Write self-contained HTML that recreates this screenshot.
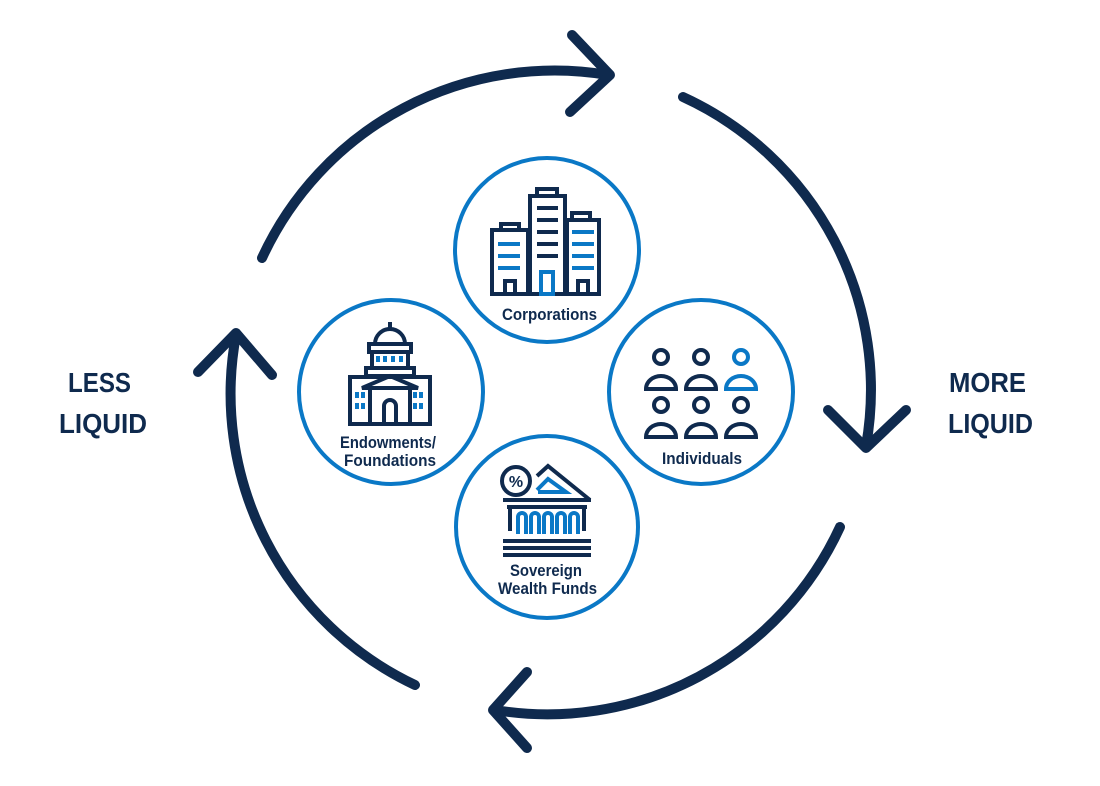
<!DOCTYPE html>
<html><head><meta charset="utf-8"><style>
html,body{margin:0;padding:0;background:#fff;}
svg{display:block}
text{font-family:"Liberation Sans",sans-serif;fill:#0f2a4e;font-weight:bold;}
</style></head><body>
<svg width="1100" height="786" viewBox="0 0 1100 786" xmlns="http://www.w3.org/2000/svg">
<g fill="none" stroke="#0f2a4e" stroke-width="10" stroke-linecap="round" stroke-linejoin="round">
<path d="M262 258 A322 322 0 0 1 608 75"/>
<path d="M572 35 L610 75 L570 112"/>
<path d="M683 97 A322 322 0 0 1 866 446"/>
<path d="M828 410 L866 448 L906 410"/>
<path d="M840 527 A322 322 0 0 1 495 710"/>
<path d="M527 672 L493 710 L527 748"/>
<path d="M415 685 A322 322 0 0 1 236 335"/>
<path d="M198 372 L236 333 L272 375"/>
</g>
<g fill="none" stroke="#0a78c6" stroke-width="4">
<circle cx="547" cy="250" r="92"/>
<circle cx="391" cy="392" r="92"/>
<circle cx="701" cy="392" r="92"/>
<circle cx="547" cy="527" r="91"/>
</g>
<text x="68" y="392" font-size="28" textLength="63" lengthAdjust="spacingAndGlyphs">LESS</text>
<text x="59" y="433" font-size="28" textLength="88" lengthAdjust="spacingAndGlyphs">LIQUID</text>
<text x="949" y="392" font-size="28" textLength="77" lengthAdjust="spacingAndGlyphs">MORE</text>
<text x="948" y="433" font-size="28" textLength="85" lengthAdjust="spacingAndGlyphs">LIQUID</text>
<text x="502" y="320" font-size="17" textLength="95" lengthAdjust="spacingAndGlyphs">Corporations</text>
<text x="340" y="448" font-size="17" textLength="96" lengthAdjust="spacingAndGlyphs">Endowments/</text>
<text x="344" y="466" font-size="17" textLength="92" lengthAdjust="spacingAndGlyphs">Foundations</text>
<text x="662" y="464" font-size="17" textLength="80" lengthAdjust="spacingAndGlyphs">Individuals</text>
<text x="510" y="576" font-size="17" textLength="72" lengthAdjust="spacingAndGlyphs">Sovereign</text>
<text x="498" y="594" font-size="17" textLength="99" lengthAdjust="spacingAndGlyphs">Wealth Funds</text>
<!-- corporations icon -->
<g fill="none" stroke="#0f2a4e" stroke-width="4">
<rect x="492" y="230" width="36" height="64"/>
<rect x="530" y="196" width="35" height="98"/>
<rect x="567" y="220" width="32" height="74"/>
<rect x="501" y="224" width="18" height="6"/>
<rect x="537" y="189" width="20" height="7"/>
<rect x="572" y="213" width="18" height="7"/>
<rect x="505" y="281" width="10" height="13"/>
<rect x="578" y="281" width="10" height="13"/>
<path d="M537 208h21M537 220h21M537 232h21M537 244h21M537 256h21"/>
</g>
<g fill="none" stroke="#0a78c6" stroke-width="4">
<path d="M498 244h22M498 256h22M498 268h22M572 232h22M572 244h22M572 256h22M572 268h22"/>
<rect x="541" y="272" width="12" height="22"/>
</g>
<!-- endowments icon -->
<g fill="none" stroke="#0f2a4e" stroke-width="4">
<path d="M375 344 A15 15 0 0 1 405 344"/>
<path d="M390 322v7"/>
<rect x="369" y="344" width="42" height="8"/>
<rect x="372" y="352" width="36" height="16"/>
<rect x="366" y="368" width="48" height="8"/>
<rect x="350" y="377" width="80" height="47"/>
<path d="M362 388 L390 376 L418 388Z"/>
<path d="M370 390v34M410 390v34"/>
<path d="M384 424v-18a6 6 0 0 1 12 0v18"/>
</g>
<g fill="#0a78c6">
<rect x="376" y="356" width="4" height="6"/><rect x="383" y="356" width="4" height="6"/><rect x="391" y="356" width="4" height="6"/><rect x="399" y="356" width="4" height="6"/>
<rect x="355" y="392" width="4" height="6"/><rect x="361" y="392" width="4" height="6"/><rect x="355" y="403" width="4" height="6"/><rect x="361" y="403" width="4" height="6"/>
<rect x="413" y="392" width="4" height="6"/><rect x="419" y="392" width="4" height="6"/><rect x="413" y="403" width="4" height="6"/><rect x="419" y="403" width="4" height="6"/>
</g>
<!-- individuals -->
<g fill="none" stroke="#0f2a4e" stroke-width="4">
<circle cx="661" cy="357" r="7"/><path d="M646 389 a15 13 0 0 1 30 0Z"/>
<circle cx="701" cy="357" r="7"/><path d="M686 389 a15 13 0 0 1 30 0Z"/>
<circle cx="661" cy="405" r="7"/><path d="M646 437 a15 13 0 0 1 30 0Z"/>
<circle cx="701" cy="405" r="7"/><path d="M686 437 a15 13 0 0 1 30 0Z"/>
<circle cx="741" cy="405" r="7"/><path d="M726 437 a15 13 0 0 1 30 0Z"/>
</g>
<g fill="none" stroke="#0a78c6" stroke-width="4">
<circle cx="741" cy="357" r="7"/><path d="M726 389 a15 13 0 0 1 30 0Z"/>
</g>
<!-- sovereign -->
<g fill="none" stroke="#0f2a4e" stroke-width="4">
<circle cx="516" cy="481" r="14"/>
<path d="M537 476 L548 466 L590 500"/>
<path d="M503 500h88M507 507h80M503 541h88M503 548h88M503 555h88"/>
<path d="M510 509v22M584 509v22"/>
</g>
<text x="516" y="487" font-size="16" text-anchor="middle">%</text>
<g fill="none" stroke="#0a78c6" stroke-width="4">
<path d="M537 490 L548 479 L566 492 L538 492"/>
<path d="M518 534v-17a4 4 0 0 1 8 0v17M531 534v-17a4 4 0 0 1 8 0v17M544 534v-17a4 4 0 0 1 8 0v17M557 534v-17a4 4 0 0 1 8 0v17M570 534v-17a4 4 0 0 1 8 0v17"/>
</g>
</svg>
</body></html>
